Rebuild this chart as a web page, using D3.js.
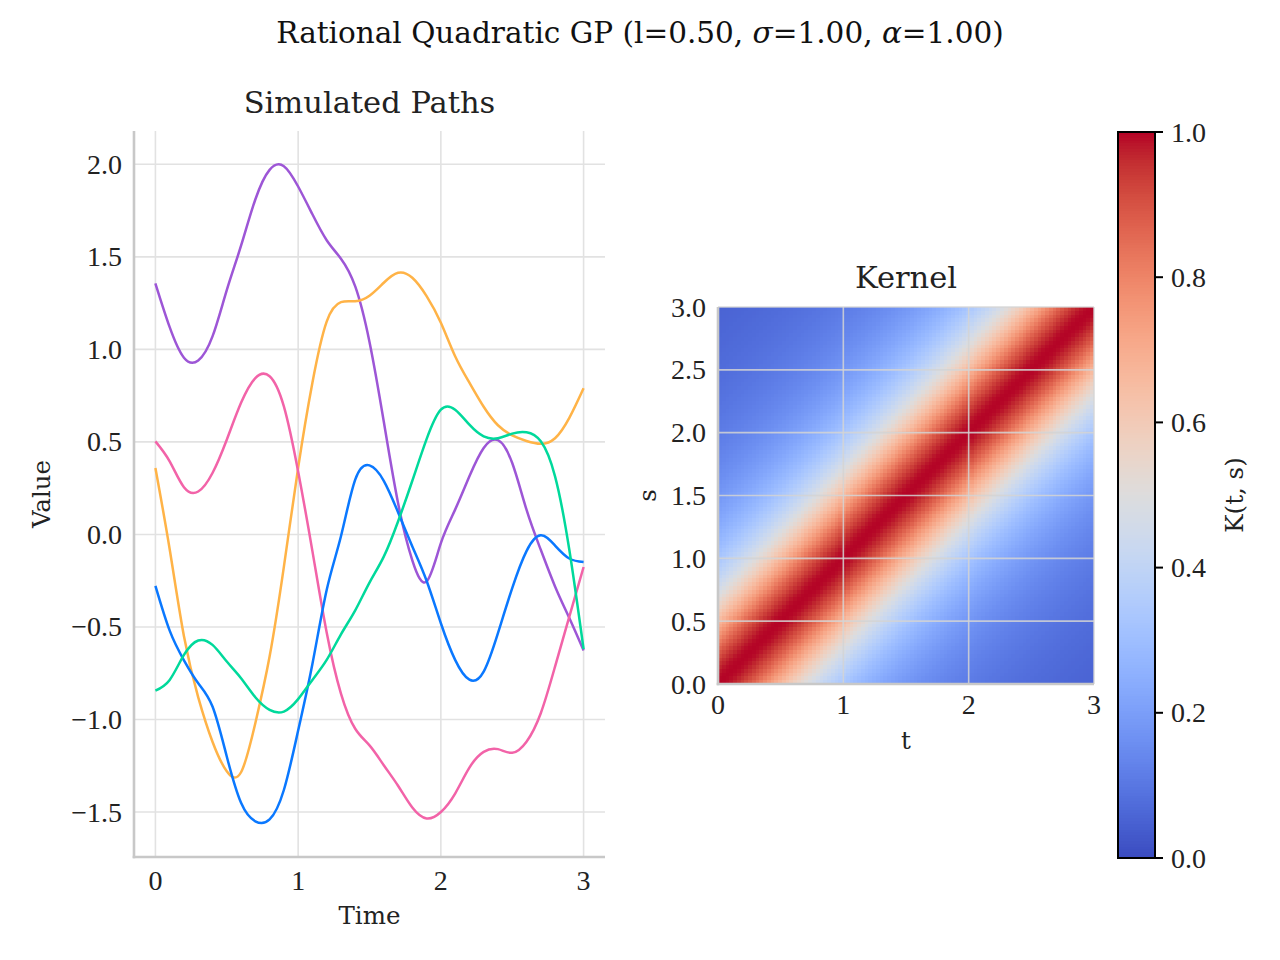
<!DOCTYPE html>
<html>
<head>
<meta charset="utf-8">
<script src="https://cdn.jsdelivr.net/npm/d3@7"></script>
<style>
    body { margin: 0; background: #fff; }
    svg { font-family: "Liberation Serif", "Times New Roman", serif; fill: #222; }
    .grid line { stroke: #e2e2e2; stroke-width: 1.6; }
    .spine { stroke: #c8c8c8; stroke-width: 2.6; }
    .tick-label { font-size: 28px; fill: #222; }
    .axis-label { font-family: "DejaVu Serif", serif; font-size: 24.5px; fill: #222; }
    .sub-title { font-family: "DejaVu Serif", serif; font-size: 30.5px; fill: #222; }
    .sup-title { font-family: "DejaVu Serif", serif; font-size: 29.5px; fill: #111; }
</style>
</head>
<body>
<div id="chart"></div>
<script>
// ---- data ----
var times = [0.0, 0.1, 0.2, 0.3, 0.4, 0.5, 0.6, 0.7, 0.8, 0.9,
             1.0, 1.1, 1.2, 1.3, 1.4, 1.5, 1.6, 1.7, 1.8, 1.9,
             2.0, 2.1, 2.2, 2.3, 2.4, 2.5, 2.6, 2.7, 2.8, 2.9, 3.0];

var pathPurple = [1.356, 1.12, 0.955, 0.94, 1.07, 1.32, 1.56, 1.81, 1.97, 1.99,
                  1.88, 1.73, 1.59, 1.49, 1.34, 1.04, 0.61, 0.17, -0.14, -0.254,
                  -0.047, 0.134, 0.314, 0.467, 0.509, 0.386, 0.134, -0.083, -0.281, -0.452, -0.627];
var pathOrange = [0.359, -0.08, -0.55, -0.88, -1.12, -1.28, -1.285, -1.02, -0.66, -0.175,
                  0.36, 0.82, 1.15, 1.255, 1.26, 1.29, 1.36, 1.414, 1.387, 1.288,
                  1.144, 0.963, 0.82, 0.69, 0.59, 0.535, 0.505, 0.49, 0.52, 0.63, 0.79];
var pathPink   = [0.503, 0.395, 0.255, 0.232, 0.332, 0.512, 0.711, 0.845, 0.855, 0.692,
                  0.34, -0.09, -0.53, -0.86, -1.05, -1.14, -1.247, -1.358, -1.476, -1.535,
                  -1.50, -1.40, -1.26, -1.175, -1.16, -1.18, -1.12, -0.966, -0.714, -0.444, -0.176];
var pathBlue   = [-0.278, -0.52, -0.68, -0.804, -0.93, -1.20, -1.45, -1.55, -1.54, -1.381,
                  -1.06, -0.70, -0.30, -0.01, 0.296, 0.373, 0.29, 0.12, -0.065, -0.25,
                  -0.48, -0.678, -0.785, -0.741, -0.533, -0.29, -0.09, -0.005, -0.06, -0.13, -0.149];
var pathGreen  = [-0.844, -0.786, -0.651, -0.573, -0.597, -0.687, -0.777, -0.88, -0.948, -0.957,
                  -0.89, -0.786, -0.678, -0.54, -0.41, -0.26, -0.12, 0.07, 0.29, 0.515,
                  0.674, 0.674, 0.593, 0.53, 0.52, 0.545, 0.552, 0.503, 0.314, -0.083, -0.62];

var pathNames  = ["purple", "orange", "pink", "blue", "green"];
var pathColors = ["#9d56d6", "#ffb347", "#f263a8", "#0a78ff", "#00d99b"];

var pathXTicks = [0, 1, 2, 3];
var pathYTicks = [-1.5, -1.0, -0.5, 0.0, 0.5, 1.0, 1.5, 2.0];

// kernel value by lag index on the 100-point grid (t, s in [0, 3])
var kernelLag = [1.000, 0.998, 0.993, 0.984, 0.971, 0.956, 0.938, 0.917, 0.895, 0.871,
                 0.845, 0.818, 0.791, 0.763, 0.735, 0.708, 0.680, 0.653, 0.627, 0.601,
                 0.576, 0.553, 0.529, 0.507, 0.486, 0.466, 0.446, 0.428, 0.410, 0.393,
                 0.377, 0.362, 0.347, 0.333, 0.320, 0.308, 0.296, 0.285, 0.274, 0.264,
                 0.254, 0.245, 0.236, 0.227, 0.220, 0.212, 0.205, 0.198, 0.191, 0.185,
                 0.179, 0.173, 0.168, 0.162, 0.157, 0.153, 0.148, 0.144, 0.139, 0.135,
                 0.131, 0.128, 0.124, 0.121, 0.117, 0.114, 0.111, 0.108, 0.105, 0.103,
                 0.100, 0.097, 0.095, 0.093, 0.090, 0.088, 0.086, 0.084, 0.082, 0.080,
                 0.078, 0.077, 0.075, 0.073, 0.072, 0.070, 0.069, 0.067, 0.066, 0.064,
                 0.063, 0.062, 0.060, 0.059, 0.058, 0.057, 0.056, 0.055, 0.054, 0.053];

var kernelXTicks = [0, 1, 2, 3];
var kernelYTicks = [0.0, 0.5, 1.0, 1.5, 2.0, 2.5, 3.0];
var colorbarTicks = [0.0, 0.2, 0.4, 0.6, 0.8, 1.0];

// coolwarm colormap stops
var coolwarm = ["#3b4cc0", "#445acc", "#4d68d7", "#5775e1", "#6282ea", "#6c8ef1", "#779af7", "#82a5fb",
                "#8db0fe", "#98b9ff", "#a3c2ff", "#aec9fd", "#b8d0f9", "#c2d5f4", "#ccd9ee", "#d5dbe6",
                "#dddddd", "#e5d8d1", "#ecd3c5", "#f1ccb9", "#f5c4ad", "#f7bba0", "#f7b194", "#f7a687",
                "#f49a7b", "#f18d6f", "#ec7f63", "#e57058", "#de604d", "#d55042", "#cb3e38", "#c0282f", "#b40426"];

var cmap = d3.scaleSequential(d3.interpolateRgbBasis(coolwarm)).domain([0, 1]);

var svg = d3.select("#chart").append("svg")
    .attr("width", 1280)
    .attr("height", 960);

// suptitle with math symbols in italic
var sup = svg.append("text")
    .attr("class", "sup-title")
    .attr("x", 640)
    .attr("y", 43)
    .attr("text-anchor", "middle");
sup.append("tspan").text("Rational Quadratic GP (l=0.50, ");
sup.append("tspan").style("font-style", "italic").text("σ");
sup.append("tspan").text("=1.00, ");
sup.append("tspan").style("font-style", "italic").text("α");
sup.append("tspan").text("=1.00)");


/*
 * PathChart - simulated GP paths
 */
PathChart = function(_svg){
    this.svg = _svg;
    this.initVis();
}

PathChart.prototype.initVis = function() {
    var vis = this;

    vis.left = 134; vis.right = 605; vis.top = 131; vis.bottom = 857;

    vis.x = d3.scaleLinear().domain([-0.15, 3.15]).range([vis.left, vis.right]);
    vis.y = d3.scaleLinear().domain([-1.743, 2.180]).range([vis.bottom, vis.top]);

    vis.g = vis.svg.append("g");

    // grid
    var grid = vis.g.append("g").attr("class", "grid");
    grid.selectAll(".gx").data(pathXTicks).enter().append("line")
        .attr("x1", d => vis.x(d)).attr("x2", d => vis.x(d))
        .attr("y1", vis.top).attr("y2", vis.bottom);
    grid.selectAll(".gy").data(pathYTicks).enter().append("line")
        .attr("y1", d => vis.y(d)).attr("y2", d => vis.y(d))
        .attr("x1", vis.left).attr("x2", vis.right);

    // spines
    vis.g.append("line").attr("class", "spine")
        .attr("x1", vis.left).attr("x2", vis.left).attr("y1", vis.top).attr("y2", vis.bottom + 1.3);
    vis.g.append("line").attr("class", "spine")
        .attr("x1", vis.left - 1.3).attr("x2", vis.right).attr("y1", vis.bottom).attr("y2", vis.bottom);

    // tick labels
    vis.g.selectAll(".xt").data(pathXTicks).enter().append("text")
        .attr("class", "tick-label")
        .attr("x", d => vis.x(d)).attr("y", 890)
        .attr("text-anchor", "middle")
        .text(d => d3.format("d")(d));
    vis.g.selectAll(".yt").data(pathYTicks).enter().append("text")
        .attr("class", "tick-label")
        .attr("x", 122).attr("y", d => vis.y(d))
        .attr("dy", "0.34em")
        .attr("text-anchor", "end")
        .text(d => d3.format(".1f")(d).replace("-", "\u2212"));

    vis.g.append("text").attr("class", "axis-label")
        .attr("x", (vis.left + vis.right) / 2).attr("y", 924)
        .attr("text-anchor", "middle").text("Time");
    vis.g.append("text").attr("class", "axis-label")
        .attr("transform", "translate(50," + (vis.top + vis.bottom) / 2 + ") rotate(-90)")
        .attr("text-anchor", "middle").text("Value");
    vis.g.append("text").attr("class", "sub-title")
        .attr("x", (vis.left + vis.right) / 2).attr("y", 113)
        .attr("text-anchor", "middle").text("Simulated Paths");

    vis.line = d3.line()
        .x(d => vis.x(d.t))
        .y(d => vis.y(d.v))
        .curve(d3.curveNatural);

    vis.updateVis();
}

PathChart.prototype.updateVis = function() {
    var vis = this;

    var series = [pathPurple, pathOrange, pathPink, pathBlue, pathGreen].map(function(vals, i) {
        return {
            name: pathNames[i],
            color: pathColors[i],
            values: vals.map(function(v, j) { return {t: times[j], v: v}; })
        };
    });

    vis.g.selectAll(".path-line")
        .data(series, d => d.name)
        .enter()
        .append("path")
        .attr("class", "path-line")
        .attr("fill", "none")
        .attr("stroke", d => d.color)
        .attr("stroke-width", 2.5)
        .attr("stroke-linejoin", "round")
        .attr("d", d => vis.line(d.values));
}


/*
 * KernelChart - heatmap of K(t, s) with colorbar
 */
KernelChart = function(_svg){
    this.svg = _svg;
    this.initVis();
}

KernelChart.prototype.initVis = function() {
    var vis = this;

    vis.left = 718; vis.right = 1094; vis.top = 307; vis.bottom = 684;
    vis.x = d3.scaleLinear().domain([0, 3]).range([vis.left, vis.right]);
    vis.y = d3.scaleLinear().domain([0, 3]).range([vis.bottom, vis.top]);

    vis.n = kernelLag.length;
    vis.xBand = d3.scaleBand().domain(d3.range(vis.n)).range([vis.x(0), vis.x(3)]);
    // reversed range: index 0 sits at the bottom
    vis.yBand = d3.scaleBand().domain(d3.range(vis.n)).range([vis.y(0), vis.y(3)]);

    vis.g = vis.svg.append("g");

    vis.updateVis();
}

KernelChart.prototype.updateVis = function() {
    var vis = this;

    var cells = [];
    for (var i = 0; i < vis.n; i++) {
        for (var j = 0; j < vis.n; j++) {
            cells.push({i: i, j: j, value: kernelLag[Math.abs(i - j)]});
        }
    }

    vis.g.append("g")
        .attr("shape-rendering", "crispEdges")
        .selectAll("rect")
        .data(cells)
        .enter()
        .append("rect")
        .attr("x", d => vis.xBand(d.i))
        .attr("y", d => vis.yBand(d.j))
        .attr("width", vis.xBand.bandwidth())
        .attr("height", vis.yBand.bandwidth())
        .attr("fill", d => cmap(d.value));

    // grid over the image
    var grid = vis.g.append("g")
        .attr("stroke", "#d4d4d4").attr("stroke-opacity", 0.85).attr("stroke-width", 1.6);
    grid.selectAll(".gx").data(kernelXTicks).enter().append("line")
        .attr("x1", d => vis.x(d)).attr("x2", d => vis.x(d))
        .attr("y1", vis.top).attr("y2", vis.bottom);
    grid.selectAll(".gy").data(kernelYTicks).enter().append("line")
        .attr("y1", d => vis.y(d)).attr("y2", d => vis.y(d))
        .attr("x1", vis.left).attr("x2", vis.right);

    vis.g.append("line").attr("class", "spine")
        .attr("x1", vis.left).attr("x2", vis.left).attr("y1", vis.top).attr("y2", vis.bottom + 1.3);
    vis.g.append("line").attr("class", "spine")
        .attr("x1", vis.left - 1.3).attr("x2", vis.right).attr("y1", vis.bottom).attr("y2", vis.bottom);

    vis.g.selectAll(".xt").data(kernelXTicks).enter().append("text")
        .attr("class", "tick-label")
        .attr("x", d => vis.x(d)).attr("y", 714)
        .attr("text-anchor", "middle")
        .text(d => d3.format("d")(d));
    vis.g.selectAll(".yt").data(kernelYTicks).enter().append("text")
        .attr("class", "tick-label")
        .attr("x", 706).attr("y", d => vis.y(d))
        .attr("dy", "0.34em")
        .attr("text-anchor", "end")
        .text(d => d3.format(".1f")(d));

    vis.g.append("text").attr("class", "axis-label")
        .attr("x", (vis.left + vis.right) / 2).attr("y", 749)
        .attr("text-anchor", "middle").text("t");
    vis.g.append("text").attr("class", "axis-label")
        .attr("transform", "translate(656," + (vis.top + vis.bottom) / 2 + ") rotate(-90)")
        .attr("text-anchor", "middle").text("s");
    vis.g.append("text").attr("class", "sub-title")
        .attr("x", (vis.left + vis.right) / 2).attr("y", 288)
        .attr("text-anchor", "middle").text("Kernel");

    vis.drawColorbar();
}

KernelChart.prototype.drawColorbar = function() {
    var vis = this;

    var cb = {left: 1118, right: 1155, top: 132, bottom: 858};
    var cy = d3.scaleLinear().domain([0, 1]).range([cb.bottom, cb.top]);
    var steps = d3.range(256);
    var band = d3.scaleBand().domain(steps).range([cb.bottom, cb.top]);

    var g = vis.svg.append("g");
    g.append("g")
        .attr("shape-rendering", "crispEdges")
        .selectAll("rect.cb")
        .data(steps)
        .enter()
        .append("rect")
        .attr("class", "cb")
        .attr("x", cb.left)
        .attr("y", d => band(d))
        .attr("width", cb.right - cb.left)
        .attr("height", band.bandwidth())
        .attr("fill", d => cmap(d / 255));

    g.append("rect")
        .attr("x", cb.left).attr("y", cb.top)
        .attr("width", cb.right - cb.left).attr("height", cb.bottom - cb.top)
        .attr("fill", "none").attr("stroke", "#000").attr("stroke-width", 2);

    g.selectAll(".cbt").data(colorbarTicks).enter().append("line")
        .attr("x1", cb.right).attr("x2", cb.right + 8)
        .attr("y1", d => cy(d)).attr("y2", d => cy(d))
        .attr("stroke", "#000").attr("stroke-width", 2);
    g.selectAll(".cbl").data(colorbarTicks).enter().append("text")
        .attr("class", "tick-label")
        .attr("x", 1171).attr("y", d => cy(d))
        .attr("dy", "0.34em")
        .text(d => d3.format(".1f")(d));

    g.append("text").attr("class", "axis-label")
        .attr("transform", "translate(1243," + (cb.top + cb.bottom) / 2 + ") rotate(-90)")
        .attr("text-anchor", "middle").text("K(t, s)");
}

new PathChart(svg);
new KernelChart(svg);
</script>
</body>
</html>
